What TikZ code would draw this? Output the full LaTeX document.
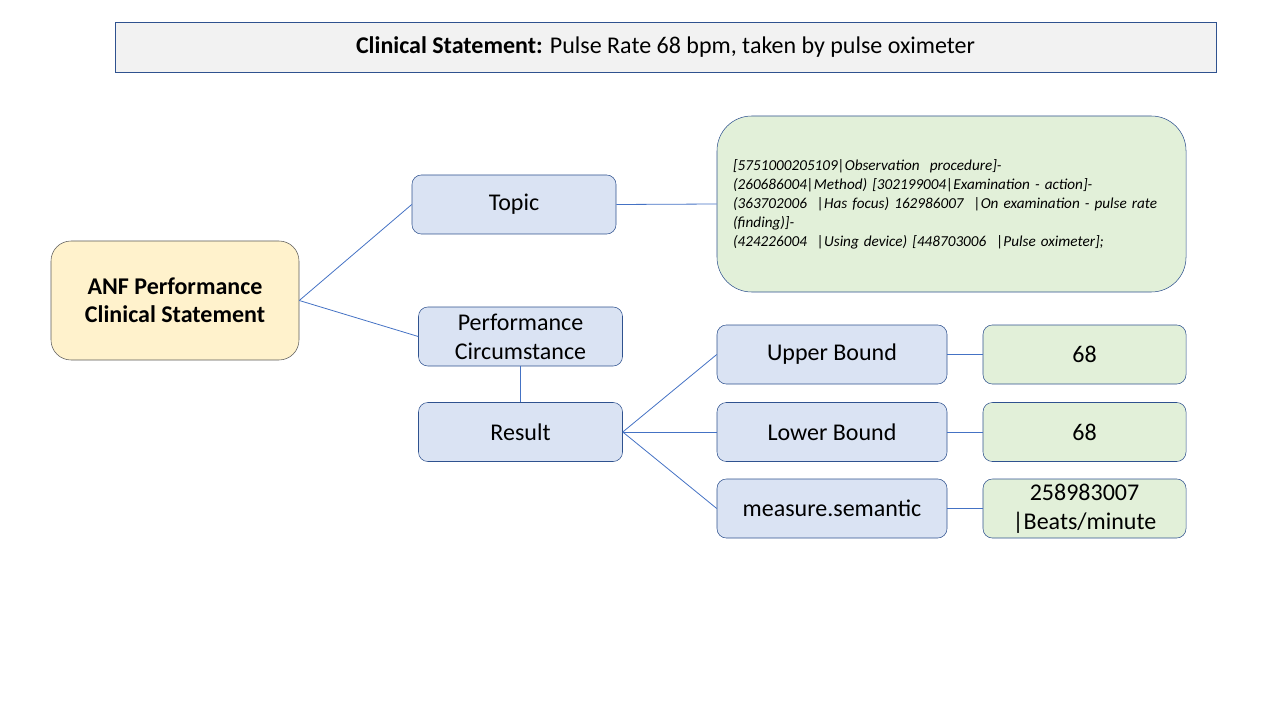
\documentclass[tikz,border=0pt]{standalone}
\usepackage{fontspec}
\setmainfont{Carlito}
\usetikzlibrary{calc}

\definecolor{boxblue}{HTML}{DAE3F3}
\definecolor{boxgreen}{HTML}{E2F0D9}
\definecolor{boxyellow}{HTML}{FFF2CC}
\definecolor{boxgray}{HTML}{F2F2F2}
\definecolor{edgeblue}{HTML}{2F528F}
\definecolor{linkblue}{HTML}{4472C4}

\begin{document}
\begin{tikzpicture}[x=0.75pt, y=-0.75pt,
  every node/.style = {inner sep=2pt},
  header/.style = {shape=rectangle, draw=edgeblue, fill=boxgray,
    minimum width=825.75pt, minimum height=37.5pt,
    font=\fontsize{18}{21.6}\selectfont},
  root/.style = {shape=rectangle, rounded corners=15pt, draw=black!65,
    fill=boxyellow, align=center,
    font=\fontsize{18}{21}\selectfont\bfseries,
    minimum width=186pt, minimum height=89.25pt},
  concept/.style = {shape=rectangle, rounded corners=7pt, draw=edgeblue,
    fill=boxblue, align=center, font=\fontsize{18}{21.75}\selectfont,
    minimum width=153pt, minimum height=44.25pt},
  bound/.style = {concept, minimum width=172.5pt},
  value/.style = {shape=rectangle, rounded corners=7pt, draw=edgeblue,
    fill=boxgreen, align=center, font=\fontsize{18}{21.75}\selectfont,
    minimum width=152.25pt, minimum height=44.25pt},
  expression/.style = {shape=rectangle, rounded corners=26pt, draw=edgeblue,
    fill=boxgreen, align=left, inner xsep=12pt,
    text width=327.75pt, minimum height=132pt,
    font=\fontsize{11.4}{14.25}\selectfont\itshape},
  link/.style = {draw=linkblue, line width=0.6pt}]
  \useasboundingbox (0,0) rectangle (1280,720);

  % title bar
  \node[header] (title) at (665.5,47)
    {\textbf{Clinical Statement:} Pulse Rate 68 bpm, taken by pulse oximeter};

  % tree
  \node[root] (anf) at (175,300.5) {ANF Performance\\Clinical Statement};
  \node[concept] (topic) at (514,204.5) {Topic};
  \node[concept] (circ) at (520.5,336.5) {Performance\\Circumstance};
  \node[concept] (result) at (520.5,432) {Result};

  \node[expression] (focus) at (951.5,204) {%
    [5751000205109|Observation~ procedure]-\\
    (260686004|Method) [302199004|Examination - action]-\\
    (363702006~ |Has focus) 162986007~ |On examination - pulse rate\\
    (finding)]-\\
    (424226004~ |Using device) [448703006~ |Pulse oximeter];};

  \node[bound] (upper) at (832,354.5) {Upper Bound};
  \node[bound] (lower) at (832,432) {Lower Bound};
  \node[bound] (semantic) at (832,508.5) {measure.semantic};

  \node[value] (upperval) at (1084.5,354.5) {68};
  \node[value] (lowerval) at (1084.5,432) {68};
  \node[value] (unit) at (1084.5,508.5) {258983007\\|Beats/minute};

  % connectors
  \draw[link] (anf.east) -- (topic.west);
  \draw[link] (anf.east) -- (circ.west);
  \draw[link] (topic.east) -- (focus.west);
  \draw[link] (circ.south) -- (result.north);
  \foreach \b in {upper, lower, semantic}
    \draw[link] (result.east) -- (\b.west);
  \draw[link] (upper) -- (upperval);
  \draw[link] (lower) -- (lowerval);
  \draw[link] (semantic) -- (unit);
\end{tikzpicture}
\end{document}
